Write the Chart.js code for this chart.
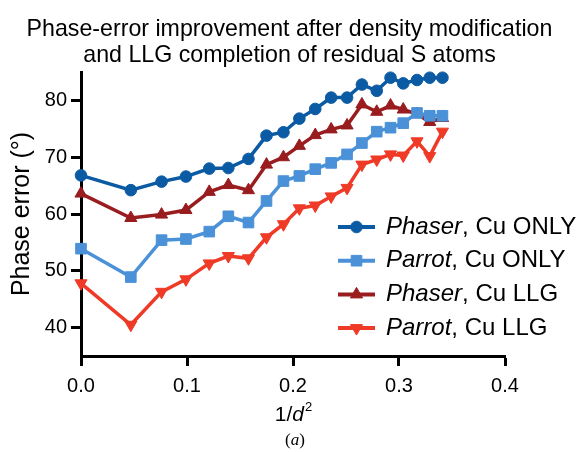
<!DOCTYPE html>
<html>
<head>
<meta charset="utf-8">
<script src="https://cdn.jsdelivr.net/npm/chart.js@4/dist/chart.umd.min.js"></script>
<style>
  html, body { margin: 0; padding: 0; background: #fff; }
  #wrap { width: 579px; height: 452px; }
</style>
</head>
<body>
<div id="wrap"><canvas id="main-chart" width="579" height="452"></canvas></div>
<script>
// 1/d^2 of each resolution shell
const INV_D2 = [0, 0.047, 0.076, 0.099, 0.121, 0.139, 0.158, 0.175, 0.191, 0.206,
  0.221, 0.236, 0.251, 0.265, 0.279, 0.292, 0.304, 0.317, 0.329, 0.341]

const PHASER_CU_ONLY = [66.8, 64.2, 65.7, 66.6, 68.0, 68.1, 69.7, 73.8, 74.4, 76.8,
  78.5, 80.5, 80.5, 82.8, 81.7, 84.0, 83.0, 83.6, 84.0, 84.0]
const PARROT_CU_ONLY = [53.9, 48.9, 55.4, 55.6, 56.9, 59.6, 58.5, 62.3, 65.8, 66.7,
  67.9, 69.0, 70.5, 72.5, 74.5, 75.2, 76.0, 77.8, 77.3, 77.3]
const PHASER_CU_LLG = [63.6, 59.3, 59.9, 60.7, 63.9, 65.1, 64.2, 68.7, 70.0, 72.0,
  73.9, 74.9, 75.6, 79.3, 78.0, 79.1, 78.4, 77.6, 76.2, 76.9]
const PARROT_CU_LLG = [47.8, 40.5, 46.3, 48.5, 51.3, 52.6, 52.2, 55.9, 58.2, 61.0,
  61.5, 63.1, 64.6, 68.7, 69.6, 70.5, 70.3, 72.8, 70.2, 74.5]

const SERIES_PROGRAMS = ['Phaser', 'Parrot', 'Phaser', 'Parrot']
const SERIES_CONDITIONS = ['Cu ONLY', 'Cu ONLY', 'Cu LLG', 'Cu LLG']

const X_TICKS = [0, 0.1, 0.2, 0.3, 0.4]
const Y_TICKS = [40, 50, 60, 70, 80]

const FONT = '"Liberation Sans", Arial, sans-serif'

const toPoints = (values) => values.map((v, i) => ({ x: INV_D2[i], y: v }))

const makeSerie = (values, color, style, radius, rotation) => ({
  data: toPoints(values),
  borderColor: color,
  backgroundColor: color,
  pointBackgroundColor: color,
  pointBorderColor: color,
  pointStyle: style,
  pointRadius: radius,
  pointRotation: rotation,
  pointBorderWidth: 1,
  borderWidth: 3.5,
  tension: 0,
  fill: false,
  clip: false
})

// legend with italic program name + plain condition, plus x title and panel label
const textPlugin = {
  id: 'textPlugin',
  afterDraw(chart) {
    const ctx = chart.ctx
    const area = chart.chartArea
    ctx.save()
    ctx.textBaseline = 'middle'
    chart.data.datasets.forEach((ds, i) => {
      const y = 227 + i * 33.7
      ctx.strokeStyle = ds.borderColor
      ctx.lineWidth = 4
      ctx.beginPath()
      ctx.moveTo(338, y)
      ctx.lineTo(375, y)
      ctx.stroke()
      ctx.fillStyle = ds.pointBackgroundColor
      ctx.strokeStyle = ds.pointBorderColor
      ctx.lineWidth = 1
      Chart.helpers.drawPoint(ctx, {
        pointStyle: ds.pointStyle,
        rotation: ds.pointRotation || 0,
        radius: ds.pointRadius,
        borderWidth: 1
      }, 356.5, y)
      ctx.fillStyle = '#000'
      ctx.textAlign = 'left'
      ctx.font = `italic 24px ${FONT}`
      ctx.fillText(SERIES_PROGRAMS[i], 386, y)
      const w = ctx.measureText(SERIES_PROGRAMS[i]).width
      ctx.font = `24px ${FONT}`
      ctx.fillText(', ' + SERIES_CONDITIONS[i], 386 + w, y)
    })

    // x axis title 1/d²
    const cx = (area.left + area.right) / 2
    const ty = 415
    ctx.fillStyle = '#000'
    ctx.font = `21px ${FONT}`
    const p1 = '1/'
    const w1 = ctx.measureText(p1).width
    ctx.font = `italic 21px ${FONT}`
    const w2 = ctx.measureText('d').width
    ctx.font = `13px ${FONT}`
    const w3 = ctx.measureText('2').width
    let x = cx - (w1 + w2 + w3) / 2
    ctx.textAlign = 'left'
    ctx.font = `21px ${FONT}`
    ctx.fillText(p1, x, ty)
    x += w1
    ctx.font = `italic 21px ${FONT}`
    ctx.fillText('d', x, ty)
    x += w2 + 1
    ctx.font = `13px ${FONT}`
    ctx.fillText('2', x, ty - 8)

    // panel label (a)
    const serif = '"Liberation Serif", "Times New Roman", serif'
    ctx.font = `17px ${serif}`
    const wp = ctx.measureText('(').width
    ctx.font = `italic 17px ${serif}`
    const wa = ctx.measureText('a').width
    let lx = 295 - (2 * wp + wa) / 2
    const ly = 441
    ctx.font = `17px ${serif}`
    ctx.fillText('(', lx, ly)
    lx += wp
    ctx.font = `italic 17px ${serif}`
    ctx.fillText('a', lx, ly)
    lx += wa
    ctx.font = `17px ${serif}`
    ctx.fillText(')', lx, ly)
    ctx.restore()
  }
}

const chartCanvas = document.getElementById('main-chart')
const myChart = new Chart(chartCanvas.getContext('2d'), {
  type: 'line',
  data: {
    datasets: [
      makeSerie(PHASER_CU_ONLY, '#0b5aa4', 'circle', 5.8, 0),
      makeSerie(PARROT_CU_ONLY, '#4a91d8', 'rect', 7.5, 0),
      makeSerie(PHASER_CU_LLG, '#991c1f', 'triangle', 7, 0),
      makeSerie(PARROT_CU_LLG, '#ee3a26', 'triangle', 7, 180)
    ]
  },
  options: {
    responsive: false,
    animation: false,
    devicePixelRatio: 1,
    layout: { padding: 0 },
    plugins: {
      legend: { display: false },
      tooltip: { enabled: false },
      title: {
        display: true,
        text: ['Phase-error improvement after density modification', 'and LLG completion of residual S atoms'],
        color: '#000',
        font: { family: FONT, size: 23.2, weight: 'normal', lineHeight: 1.1 },
        padding: { top: 17, bottom: 4 }
      }
    },
    scales: {
      x: {
        type: 'linear',
        min: 0,
        max: 0.4,
        afterBuildTicks: (scale) => { scale.ticks = X_TICKS.map(v => ({ value: v })) },
        afterFit: (scale) => {
          scale.height = 96
          scale.paddingRight = 74
        },
        border: { display: true, color: '#000', width: 3 },
        grid: { drawOnChartArea: false, drawTicks: true, tickLength: 10, tickWidth: 3, tickColor: '#000' },
        ticks: {
          color: '#000',
          padding: 8,
          font: { family: FONT, size: 20 },
          callback: (v) => Number(v).toFixed(1)
        }
      },
      y: {
        min: 35,
        max: 85,
        afterBuildTicks: (scale) => { scale.ticks = Y_TICKS.map(v => ({ value: v })) },
        afterFit: (scale) => { scale.width = 81 },
        border: { display: true, color: '#000', width: 3 },
        grid: { drawOnChartArea: false, drawTicks: true, tickLength: 10, tickWidth: 3, tickColor: '#000' },
        ticks: {
          color: '#000',
          padding: 4,
          font: { family: FONT, size: 20 }
        },
        title: {
          display: true,
          text: 'Phase error (°)',
          color: '#000',
          font: { family: FONT, size: 25 },
          padding: { top: 7, bottom: 0 }
        }
      }
    }
  },
  plugins: [textPlugin]
})
</script>
</body>
</html>
